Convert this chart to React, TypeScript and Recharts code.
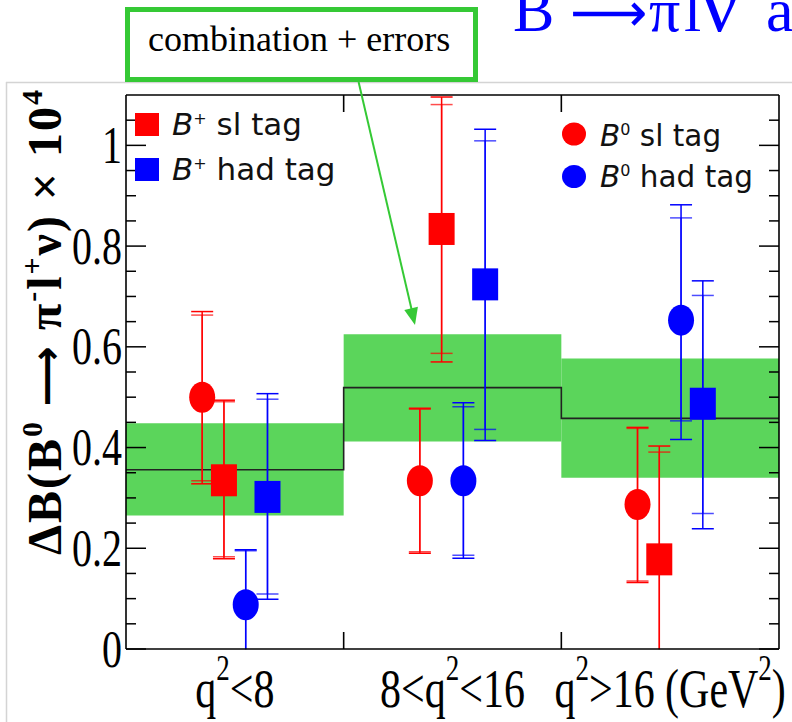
import React from 'react';
import { ComposedChart, XAxis, YAxis, Scatter, ErrorBar, Line, ReferenceArea } from 'recharts';

// ---- categories / axis ----
const binStarts = [0, 1, 2];
const binLabels = ['q^2<8', '8<q^2<16', 'q^2>16 (GeV^2)'];
const labelPositions = [0.5, 1.5, 2.5];
const binEdges = [1, 2];

const yMajorTicks = [0, 0.2, 0.4, 0.6, 0.8, 1];
const yTickLabels = ['0', '0.2', '0.4', '0.6', '0.8', '1'];
const yMinorTicks = [0.05, 0.1, 0.15, 0.25, 0.3, 0.35, 0.45, 0.5, 0.55, 0.65, 0.7, 0.75, 0.85, 0.9, 0.95, 1.05];

// ---- combination (green band) ----
const bandLow = [0.265, 0.412, 0.34];
const bandHigh = [0.448, 0.625, 0.577];
const bandCentral = [0.356, 0.519, 0.458, 0.458];
const bandCentralX = [0, 1, 2, 3];

// ---- B0 sl tag (red circles) ----
const b0SlValue = [0.5, 0.334, 0.287];
const b0SlInnerLow = [0.334, 0.193, 0.135];
const b0SlInnerHigh = [0.663, 0.476, 0.438];
const b0SlOuterLow = [0.328, 0.19, 0.132];
const b0SlOuterHigh = [0.67, 0.478, 0.44];

// ---- B+ sl tag (red squares) ----
const bpSlValue = [0.335, 0.834, 0.178];
const bpSlInnerLow = [0.183, 0.587, -0.04];
const bpSlInnerHigh = [0.491, 1.081, 0.391];
const bpSlOuterLow = [0.179, 0.57, -0.05];
const bpSlOuterHigh = [0.494, 1.096, 0.403];

// ---- B0 had tag (blue circles) ----
const b0HadValue = [0.088, 0.334, 0.653];
const b0HadInnerLow = [-0.02, 0.186, 0.453];
const b0HadInnerHigh = [0.195, 0.481, 0.856];
const b0HadOuterLow = [-0.03, 0.18, 0.416];
const b0HadOuterHigh = [0.197, 0.489, 0.882];

// ---- B+ had tag (blue squares) ----
const bpHadValue = [0.302, 0.724, 0.487];
const bpHadInnerLow = [0.109, 0.436, 0.269];
const bpHadInnerHigh = [0.496, 1.009, 0.702];
const bpHadOuterLow = [0.099, 0.414, 0.239];
const bpHadOuterHigh = [0.507, 1.032, 0.731];

const RED = '#ff0000';
const BLUE = '#0000ff';
const GREEN_BAND = '#5bd55b';
const GREEN_LINE = '#35c935';
const SERIF = "'Liberation Serif', 'DejaVu Serif', serif";
const SANS = "'DejaVu Sans', 'Noto Sans', sans-serif";

type SeriesDef = {
  name: string;
  color: string;
  shape: 'circle' | 'square';
  offset: number;
  value: number[];
  inLo: number[];
  inHi: number[];
  outLo: number[];
  outHi: number[];
};

const series: SeriesDef[] = [
  { name: 'B0 sl', color: RED, shape: 'circle', offset: 0.35, value: b0SlValue, inLo: b0SlInnerLow, inHi: b0SlInnerHigh, outLo: b0SlOuterLow, outHi: b0SlOuterHigh },
  { name: 'B+ sl', color: RED, shape: 'square', offset: 0.45, value: bpSlValue, inLo: bpSlInnerLow, inHi: bpSlInnerHigh, outLo: bpSlOuterLow, outHi: bpSlOuterHigh },
  { name: 'B0 had', color: BLUE, shape: 'circle', offset: 0.55, value: b0HadValue, inLo: b0HadInnerLow, inHi: b0HadInnerHigh, outLo: b0HadOuterLow, outHi: b0HadOuterHigh },
  { name: 'B+ had', color: BLUE, shape: 'square', offset: 0.65, value: bpHadValue, inLo: bpHadInnerLow, inHi: bpHadInnerHigh, outLo: bpHadOuterLow, outHi: bpHadOuterHigh },
];

const buildPoints = (s: SeriesDef) =>
  s.value.map((v, i) => ({
    x: binStarts[i] + s.offset,
    y: v,
    errIn: [v - s.inLo[i], s.inHi[i] - v],
    errOut: [v - s.outLo[i], s.outHi[i] - v],
  }));

const centralData = bandCentralX.map((x, i) => ({ x, y: bandCentral[i] }));

const allYTicks = [...yMajorTicks, ...yMinorTicks];
const isMajor = (v: number) => yMajorTicks.findIndex((m) => Math.abs(m - v) < 1e-6);

const renderSup = (label: string, supSize: number, rise: number) => {
  const parts = label.split(/\^(.)/);
  return parts.map((p, i) =>
    i % 2 === 1 ? (
      <tspan key={i} fontSize={supSize} dy={-rise}>{p}</tspan>
    ) : (
      <tspan key={i} dy={i > 0 ? rise : 0}>{p}</tspan>
    )
  );
};

const LeftTick = (props: any) => {
  const { x, y, payload } = props;
  const mi = isMajor(payload.value);
  return (
    <g>
      <line x1={x} y1={y} x2={x + (mi >= 0 ? 20 : 10)} y2={y} stroke="#000" strokeWidth={1.5} />
      {mi >= 0 && (
        <text
          transform={`translate(${x - 4},${y + 17.5}) scale(1,1.32)`}
          textAnchor="end"
          fontFamily={SERIF}
          fontSize={40}
          fill="#000"
        >
          {yTickLabels[mi]}
        </text>
      )}
    </g>
  );
};

const RightTick = (props: any) => {
  const { x, y, payload } = props;
  const mi = isMajor(payload.value);
  return <line x1={x} y1={y} x2={x - (mi >= 0 ? 20 : 10)} y2={y} stroke="#000" strokeWidth={1.5} />;
};

const BottomTick = (props: any) => {
  const { x, y, payload } = props;
  const v = payload.value;
  if (binEdges.indexOf(v) >= 0) {
    return <line x1={x} y1={y} x2={x} y2={y - 17} stroke="#000" strokeWidth={1.6} />;
  }
  const li = labelPositions.indexOf(v);
  if (li < 0) return <g />;
  return (
    <text
      transform={`translate(${x},${y + 58}) scale(1,1.3)`}
      textAnchor="middle"
      fontFamily={SERIF}
      fontSize={42}
      fill="#000"
    >
      {renderSup(binLabels[li], 27, 21)}
    </text>
  );
};

const TopTick = (props: any) => {
  const { x, y } = props;
  return <line x1={x} y1={y} x2={x} y2={y + 17} stroke="#000" strokeWidth={1.6} />;
};

const makeShape = (s: SeriesDef) => (p: any) => {
  const { cx, cy } = p;
  if (cx == null || cy == null) return <g />;
  if (s.shape === 'square') {
    return <rect x={cx - 13} y={cy - 16} width={26} height={32} fill={s.color} />;
  }
  return <ellipse cx={cx} cy={cy} rx={13} ry={15.5} fill={s.color} />;
};

const axisLine = { stroke: '#000', strokeWidth: 1.6 };

export default function App() {
  return (
    <div style={{ position: 'absolute', left: 0, top: 0, width: 792, height: 722, background: '#fff', overflow: 'hidden' }}>
      <style>{`.recharts-errorBar, .clip-plot { clip-path: url(#plotclip); }`}</style>
      <svg width={0} height={0} style={{ position: 'absolute', left: 0, top: 0 }}>
        <defs>
          <clipPath id="plotclip" clipPathUnits="userSpaceOnUse">
            <rect x={0} y={0} width={792} height={649.3} />
          </clipPath>
        </defs>
      </svg>
      <ComposedChart width={792} height={722} margin={{ top: 65, right: 0, bottom: 0, left: 0 }}>
        {binStarts.map((b, i) => (
          <ReferenceArea
            key={'band' + i}
            x1={b}
            x2={b + 1}
            y1={bandLow[i]}
            y2={bandHigh[i]}
            fill={GREEN_BAND}
            fillOpacity={1}
            stroke="none"
            ifOverflow="visible"
          />
        ))}
        <XAxis
          dataKey="x"
          type="number"
          domain={[0, 3]}
          allowDataOverflow
          ticks={[0.5, 1, 1.5, 2, 2.5]}
          interval={0}
          tickSize={0}
          tickMargin={0}
          tickLine={false}
          axisLine={axisLine}
          tick={BottomTick}
          height={73}
        />
        <XAxis
          xAxisId="top"
          orientation="top"
          dataKey="x"
          type="number"
          domain={[0, 3]}
          allowDataOverflow
          ticks={binEdges}
          interval={0}
          tickSize={0}
          tickMargin={0}
          tickLine={false}
          axisLine={axisLine}
          tick={TopTick}
          height={30}
        />
        <YAxis
          dataKey="y"
          type="number"
          domain={[0, 1.1]}
          allowDataOverflow
          ticks={allYTicks}
          interval={0}
          tickSize={0}
          tickMargin={0}
          tickLine={false}
          axisLine={axisLine}
          tick={LeftTick}
          width={126}
        />
        <YAxis
          yAxisId="right"
          orientation="right"
          dataKey="y"
          type="number"
          domain={[0, 1.1]}
          allowDataOverflow
          ticks={allYTicks}
          interval={0}
          tickSize={0}
          tickMargin={0}
          tickLine={false}
          axisLine={axisLine}
          tick={RightTick}
          width={13}
        />
        <Line
          xAxisId="top"
          yAxisId="right"
          data={centralData}
          dataKey="y"
          type="stepAfter"
          stroke="#222"
          strokeWidth={1.6}
          dot={false}
          activeDot={false}
          isAnimationActive={false}
        />
        {series.map((s) => (
          <Scatter
            key={s.name}
            name={s.name}
            className="clip-plot"
            data={buildPoints(s)}
            dataKey="y"
            fill={s.color}
            shape={makeShape(s)}
            isAnimationActive={false}
          >
            <ErrorBar dataKey="errOut" direction="y" width={11} stroke={s.color} strokeWidth={1.5} isAnimationActive={false} />
            <ErrorBar dataKey="errIn" direction="y" width={11} stroke={s.color} strokeWidth={1.5} strokeOpacity={0.7} isAnimationActive={false} />
          </Scatter>
        ))}
      </ComposedChart>

      <svg width={792} height={722} style={{ position: 'absolute', left: 0, top: 0, pointerEvents: 'none' }}>
        {/* slide frame */}
        <line x1={6.5} y1={82} x2={6.5} y2={722} stroke="#d4d4d4" strokeWidth={1.5} />
        <line x1={6} y1={82.5} x2={792} y2={82.5} stroke="#d4d4d4" strokeWidth={1.5} />

        {/* blue slide title (cut by the slide edge, as in the reference) */}
        <text y={31} fontFamily={SERIF} fontSize={62} fill={BLUE}>
          <tspan x={513}>B</tspan>
          <tspan x={570} fontFamily={SANS} fontSize={54}>⟶</tspan>
          <tspan x={649}>π</tspan>
          <tspan x={684}>l</tspan>
          <tspan x={701} fontSize={82}>ν</tspan>
          <tspan x={766}>and</tspan>
        </text>

        {/* annotation box */}
        <rect x={127.5} y={9.5} width={348} height={70} fill="#fff" stroke={GREEN_LINE} strokeWidth={5} />
        <text x={148} y={51} fontFamily={SERIF} fontSize={36} fill="#000">combination + errors</text>
        <line x1={358.6} y1={82} x2={411.5} y2={309} stroke={GREEN_LINE} strokeWidth={2} />
        <polygon points="415,325 417.9,306.8 404.3,310" fill={GREEN_LINE} />

        {/* y-axis title */}
        <text
          transform="translate(61,555) rotate(-90)"
          fontFamily={SERIF}
          fontWeight={700}
          fontSize={48}
          fill="#000"
          textLength={465}
          lengthAdjust="spacing"
        >
          ΔB(B<tspan fontSize={30} dy={-19}>0</tspan>
          <tspan dy={19}> </tspan>
          <tspan fontFamily={SANS} fontSize={42}>⟶</tspan>
          <tspan> π</tspan>
          <tspan fontSize={30} dy={-19}>-</tspan>
          <tspan dy={19}>l</tspan>
          <tspan fontSize={30} dy={-19}>+</tspan>
          <tspan dy={19}>ν) × 10</tspan>
          <tspan fontSize={30} dy={-19}>4</tspan>
        </text>

        {/* left legend */}
        <rect x={135} y={113} width={24} height={23} fill={RED} />
        <text x={172} y={135} fontFamily={SANS} fontSize={31} fill="#111">
          <tspan fontStyle="italic">B</tspan>
          <tspan fontSize={16} dy={-11}>+</tspan>
          <tspan dy={11}> sl tag</tspan>
        </text>
        <rect x={135} y={158} width={24} height={23} fill={BLUE} />
        <text x={172} y={180} fontFamily={SANS} fontSize={31} fill="#111">
          <tspan fontStyle="italic">B</tspan>
          <tspan fontSize={16} dy={-11}>+</tspan>
          <tspan dy={11}> had tag</tspan>
        </text>

        {/* right legend */}
        <ellipse cx={574} cy={134} rx={12} ry={11.5} fill={RED} />
        <text x={600} y={146} fontFamily={SANS} fontSize={29.5} fill="#111">
          <tspan fontStyle="italic">B</tspan>
          <tspan fontSize={16} dy={-11}>0</tspan>
          <tspan dy={11}> sl tag</tspan>
        </text>
        <ellipse cx={574} cy={176.5} rx={12} ry={11.5} fill={BLUE} />
        <text x={600} y={187} fontFamily={SANS} fontSize={29.5} fill="#111">
          <tspan fontStyle="italic">B</tspan>
          <tspan fontSize={16} dy={-11}>0</tspan>
          <tspan dy={11}> had tag</tspan>
        </text>
      </svg>
    </div>
  );
}
